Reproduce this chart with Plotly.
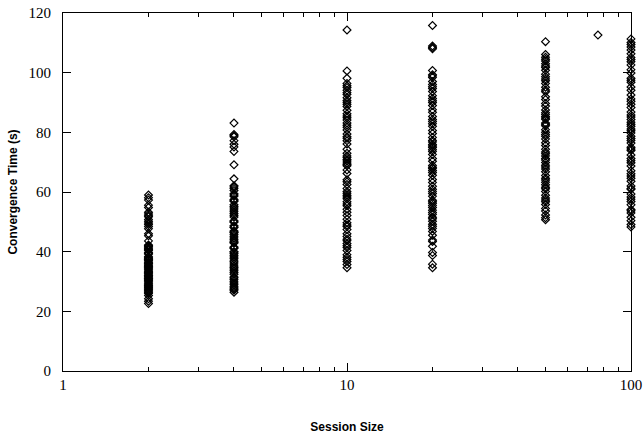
import plotly.graph_objects as go

size_2 = [59.0, 58.1, 57.3, 55.6, 54.8, 53.2, 52.6, 51.7, 50.8, 50.2, 49.1, 48.4, 47.7, 46.0, 45.3, 43.6,
          42.2, 41.8, 41.1, 40.4, 39.7, 39.2, 38.4, 37.8, 37.3, 36.5, 36.1, 35.4, 34.9, 34.3, 33.9, 33.2,
          32.8, 32.1, 31.7, 31.0, 30.6, 29.9, 29.5, 28.8, 28.4, 27.7, 27.3, 26.6, 26.2, 25.3, 24.2, 23.4,
          22.6, 40.7, 38.0, 36.2, 34.6, 32.5, 31.4, 29.2, 28.0, 35.1, 33.5, 30.3, 52.0, 49.6, 41.5, 39.4,
          37.0, 33.1, 30.9, 28.6, 27.0, 26.0, 42.0, 37.5, 35.8, 31.9]
size_4 = [83.1, 79.3, 78.5, 77.2, 76.0, 75.1, 73.6, 69.1, 64.4, 62.1, 61.2, 60.5, 59.4, 58.6, 57.5, 56.9,
          55.7, 55.1, 54.0, 53.4, 52.2, 51.6, 50.4, 49.9, 48.7, 48.1, 46.9, 46.4, 45.2, 44.6, 43.5, 42.9,
          41.6, 41.1, 40.0, 39.4, 38.2, 37.6, 36.5, 35.9, 34.7, 34.2, 33.0, 32.4, 31.2, 30.7, 29.5, 28.9,
          27.8, 27.1, 26.4, 57.1, 52.8, 48.3, 44.0, 39.9, 35.2, 31.5, 46.6, 41.3, 78.9, 61.7, 59.0, 54.6,
          50.0, 45.8, 43.1, 38.8, 36.9, 33.6, 30.1, 28.2, 27.4]
size_10 = [114.3, 100.6, 98.1, 96.4, 95.0, 94.1, 92.7, 91.6, 90.1, 88.7, 87.4, 86.2, 84.9, 84.1, 83.1,
           81.7, 80.8, 79.4, 78.5, 77.2, 76.1, 74.3, 73.0, 72.1, 70.9, 69.7, 68.8, 67.4, 66.2, 64.1,
           62.5, 61.2, 60.2, 58.9, 57.7, 56.7, 55.4, 54.2, 53.2, 50.9, 49.7, 48.4, 47.4, 46.0, 45.1,
           43.7, 42.7, 41.4, 40.4, 39.0, 38.1, 36.7, 35.7, 34.6, 70.4, 58.3, 44.2, 90.7, 52.1, 85.5,
           95.6, 93.3, 89.4, 82.4, 78.0, 71.6, 69.2, 63.4, 59.6, 56.0, 48.9, 42.0, 37.4]
size_20 = [115.8, 108.9, 108.0, 100.7, 99.3, 98.4, 97.0, 96.0, 94.7, 93.7, 92.3, 91.3, 90.0, 89.0, 87.6,
           86.7, 85.3, 84.3, 82.9, 82.0, 80.6, 79.6, 78.3, 77.3, 75.9, 74.9, 73.6, 72.6, 71.2, 70.3,
           68.9, 67.9, 66.5, 65.6, 64.2, 63.2, 61.9, 60.9, 59.5, 58.6, 57.2, 56.2, 54.8, 53.9, 52.5,
           51.5, 50.2, 49.2, 47.8, 46.8, 45.5, 43.4, 41.8, 39.7, 38.7, 35.8, 34.6, 75.4, 68.3, 56.7,
           108.4, 98.9, 95.3, 90.6, 83.6, 76.8, 74.2, 67.2, 60.2, 55.5, 53.1, 51.0, 48.5, 43.9]
size_50 = [110.4, 106.1, 105.2, 103.9, 103.0, 101.7, 100.8, 99.5, 98.6, 97.3, 96.4, 95.1, 94.2, 91.9,
           91.0, 89.7, 88.8, 87.5, 86.6, 85.3, 84.4, 83.1, 82.2, 80.9, 80.0, 78.7, 77.8, 76.5, 75.6,
           74.3, 73.4, 72.1, 71.2, 69.9, 69.0, 67.7, 66.8, 65.5, 64.6, 63.3, 62.4, 61.1, 60.2, 58.9,
           58.0, 56.7, 55.8, 54.5, 53.6, 52.3, 51.4, 50.7, 70.7, 84.8, 104.5, 102.2, 97.9, 93.6, 86.0,
           82.7, 79.3, 72.8, 68.4, 64.0, 61.6, 57.3]
size_100 = [111.3, 110.1, 108.6, 107.6, 106.3, 105.1, 103.7, 102.6, 101.0, 99.9, 98.1, 96.8, 95.2, 94.1,
            92.5, 91.2, 89.4, 88.3, 86.8, 85.8, 84.3, 83.4, 82.0, 81.1, 79.8, 78.7, 77.3, 76.4, 75.0,
            73.9, 72.4, 71.2, 69.8, 68.7, 67.1, 66.1, 64.6, 63.6, 62.0, 60.9, 59.3, 58.3, 56.8, 55.7,
            54.1, 53.0, 51.5, 50.4, 49.1, 48.3, 109.4, 104.4, 97.5, 90.4, 85.1, 82.7, 80.5, 77.9, 74.4,
            70.5, 65.4, 61.2, 57.6, 53.7]
outlier_x = [76.5]
outlier_y = [112.6]

sessions = [2, 4, 10, 20, 50, 100]
series = [size_2, size_4, size_10, size_20, size_50, size_100]

xs, ys = [], []
for s, vals in zip(sessions, series):
    xs += [s] * len(vals)
    ys += vals
xs += outlier_x
ys += outlier_y

fig = go.Figure()
fig.add_trace(go.Scatter(
    x=xs, y=ys, mode="markers",
    marker=dict(symbol="diamond-open", size=6, color="black", line=dict(width=1.2, color="black")),
    cliponaxis=False, showlegend=False, hoverinfo="skip"))

serif = "Liberation Serif, Times New Roman, serif"
sans = "Liberation Sans, Arial, sans-serif"

fig.update_layout(
    width=643, height=436,
    margin=dict(l=63, r=12, t=13, b=65, autoexpand=False),
    paper_bgcolor="white", plot_bgcolor="white",
    xaxis=dict(
        type="log", range=[0, 2], automargin=False,
        tickvals=[1, 10, 100], ticktext=["1", "10", "100"],
        ticks="inside", ticklen=8, tickwidth=1, tickcolor="black",
        minor=dict(ticks="inside", ticklen=4, tickcolor="black", tickwidth=1,
                   tickvals=[2, 3, 4, 5, 6, 7, 8, 9, 20, 30, 40, 50, 60, 70, 80, 90], showgrid=False),
        showline=True, linecolor="black", linewidth=1, mirror="ticks",
        showgrid=False, zeroline=False,
        tickfont=dict(family=serif, size=15, color="black"),
        title=dict(text="<b>Session Size</b>", font=dict(family=sans, size=12, color="black"), standoff=30),
    ),
    yaxis=dict(
        range=[0, 120], tickvals=[0, 20, 40, 60, 80, 100, 120], automargin=False,
        ticks="inside", ticklen=8, tickwidth=1, tickcolor="black",
        ticklabelstandoff=8,
        showline=True, linecolor="black", linewidth=1, mirror="ticks",
        showgrid=False, zeroline=False,
        tickfont=dict(family=serif, size=15, color="black"),
        title=dict(text="<b>Convergence Time (s)</b>", font=dict(family=sans, size=12, color="black"), standoff=8),
    ),
)

fig.write_html("out.html", config={"displayModeBar": False},
               post_script="document.body.style.margin='0';document.body.style.overflow='hidden';")
